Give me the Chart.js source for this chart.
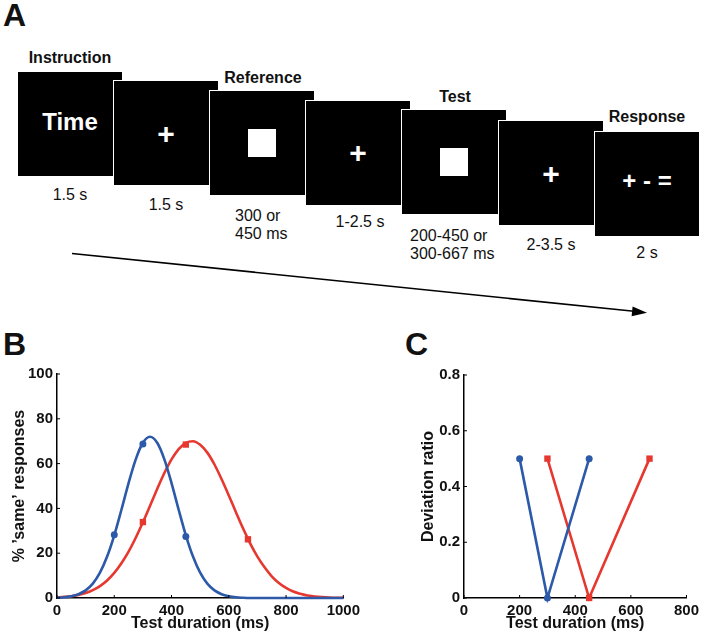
<!DOCTYPE html>
<html lang="en">
<head>
<meta charset="UTF-8">
<title>Duration judgement task</title>
<script src="https://cdn.jsdelivr.net/npm/chart.js"></script>
<style>
    body { margin: 0; background: #fff; font-family: 'Liberation Sans', Arial, sans-serif; color: #111; }
    #fig { position: relative; width: 703px; height: 636px; overflow: hidden; }
    .letter { position: absolute; font-size: 32px; font-weight: bold; line-height: 32px; }
    .screen {
        position: absolute; width: 104px; height: 104px; background: #000; border: 1px solid #fff;
        display: flex; align-items: center; justify-content: center;
        color: #fff; font-weight: bold; line-height: 1;
    }
    .stim { width: 28px; height: 28px; background: #fff; }
    .head { position: absolute; width: 160px; text-align: center; font-size: 16px; font-weight: bold; line-height: 16px; }
    .dur { position: absolute; font-size: 16px; line-height: 16px; white-space: nowrap; }
    .dur.c { width: 160px; text-align: center; }
    canvas { position: absolute; }
    svg { position: absolute; left: 0; top: 0; }
</style>
</head>
<body>
<div id="fig">
    <div class="letter" style="left:3px; top:-1px;">A</div>
    <div class="letter" style="left:3px; top:328px;">B</div>
    <div class="letter" style="left:405px; top:328px;">C</div>

    <!-- panel A: trial sequence -->
    <div class="head" style="left:-10px; top:49.5px;">Instruction</div>
    <div class="head" style="left:183px; top:69.5px;">Reference</div>
    <div class="head" style="left:375px; top:88.5px;">Test</div>
    <div class="head" style="left:567px; top:108.5px;">Response</div>

    <div class="screen" style="left:17px; top:71px; font-size:24px;"><span style="transform:translateY(-2px)">Time</span></div>
    <div class="screen" style="left:113px; top:80px; font-size:30px;"><span style="transform:translateY(1px)">+</span></div>
    <div class="screen" style="left:209px; top:90px;"><div class="stim"></div></div>
    <div class="screen" style="left:305px; top:100px; font-size:30px;"><span>+</span></div>
    <div class="screen" style="left:401px; top:109px;"><div class="stim"></div></div>
    <div class="screen" style="left:498px; top:120px; font-size:30px;"><span style="transform:translateY(1px)">+</span></div>
    <div class="screen" style="left:594px; top:131px; font-size:24px;"><span style="transform:translateY(-3px)">+ - =</span></div>

    <div class="dur c" style="left:-10px; top:187px;">1.5 s</div>
    <div class="dur c" style="left:86px; top:197px;">1.5 s</div>
    <div class="dur" style="left:235px; top:207.4px; line-height:17.6px;">300 or<br>450 ms</div>
    <div class="dur c" style="left:280px; top:214px;">1-2.5 s</div>
    <div class="dur" style="left:410px; top:226.7px; line-height:18px;">200-450 or<br>300-667 ms</div>
    <div class="dur c" style="left:471px; top:236.5px;">2-3.5 s</div>
    <div class="dur c" style="left:567px; top:244.5px;">2 s</div>

    <svg width="703" height="636">
        <line x1="72" y1="253.5" x2="634" y2="311.3" stroke="#000" stroke-width="1.6"/>
        <polygon points="647,312.7 631.6,316.2 632.6,306.4" fill="#000"/>
    </svg>

    <canvas id="chartB" width="364" height="336" style="left:0; top:300px;"></canvas>
    <canvas id="chartC" width="303" height="336" style="left:400px; top:300px;"></canvas>
</div>

<script>
    // Panel B: fitted curves of % 'same' responses
    const curveX = [0, 25, 50, 75, 100, 125, 150, 175, 200, 225, 250, 275, 300, 325, 350, 375, 400,
                    425, 450, 475, 500, 525, 550, 575, 600, 625, 650, 675, 700, 725, 750, 775, 800,
                    825, 850, 875, 900, 925, 950, 975, 1000];
    const fit300 = [0.1, 0.3, 0.8, 1.7, 3.4, 6.4, 11.3, 18.5, 28.0, 39.4, 51.3, 61.9, 69.3, 72.0, 69.3, 61.9, 51.3,
                    39.4, 28.0, 18.5, 11.3, 6.4, 3.4, 1.7, 0.8, 0.3, 0.1, 0, 0, 0, 0, 0, 0,
                    0, 0, 0, 0, 0, 0, 0, 0];
    const fit450 = [0.3, 0.5, 0.8, 1.4, 2.2, 3.5, 5.3, 7.8, 11.2, 15.5, 20.7, 26.9, 33.8, 41.2, 48.7, 55.8, 61.9,
                    66.5, 69.3, 70.0, 68.4, 64.9, 59.6, 53.0, 45.8, 38.3, 31.0, 24.3, 18.5, 13.7, 9.7, 6.7, 4.5,
                    2.9, 1.9, 1.1, 0.7, 0.4, 0.2, 0.1, 0.1];

    // observed test durations (ms)
    const test300 = [200, 300, 450];
    const same300 = [28.2, 68.8, 27.5];
    const test450 = [300, 450, 667];
    const same450 = [33.9, 68.5, 26.2];

    // Panel C: deviation ratio
    const dev300 = [0.5, 0, 0.5];
    const dev450 = [0.5, 0, 0.5];

    // tick labels
    const xTicksB = [0, 200, 400, 600, 800, 1000];
    const yTicksB = [0, 20, 40, 60, 80, 100];
    const xTicksC = [0, 200, 400, 600, 800];
    const yTicksC = [0, 0.2, 0.4, 0.6, 0.8];

    const BLUE = '#2c5aa8';
    const RED = '#e6382f';

    Chart.defaults.font.family = "'Liberation Sans', Arial, sans-serif";
    Chart.defaults.color = '#111';

    const pts = (xs, ys) => xs.map((x, i) => ({ x: x, y: ys[i] }));

    // matlab-style small ticks pointing into the plot
    const inwardTicks = {
        id: 'inwardTicks',
        afterDraw(chart) {
            const { ctx, chartArea: a, scales: { x, y } } = chart;
            ctx.save();
            ctx.strokeStyle = '#000';
            ctx.lineWidth = 1;
            ctx.beginPath();
            x.ticks.forEach(t => {
                const px = x.getPixelForValue(t.value);
                ctx.moveTo(px, a.bottom);
                ctx.lineTo(px, a.bottom - 3);
            });
            y.ticks.forEach(t => {
                const py = y.getPixelForValue(t.value);
                ctx.moveTo(a.left, py);
                ctx.lineTo(a.left + 3, py);
            });
            ctx.stroke();
            ctx.restore();
        }
    };

    function axes(xMax, xTicks, yMax, yTicks, yTitle, yTitlePad, yWidth) {
        const tickFont = { size: 15, weight: 'bold' };
        const titleFont = { size: 16, weight: 'bold' };
        return {
            x: {
                type: 'linear', min: 0, max: xMax,
                afterBuildTicks: s => { s.ticks = xTicks.map(v => ({ value: v })); },
                afterFit: s => { s.height = 38; },
                grid: { display: false, drawTicks: false },
                border: { color: '#000', width: 1.5 },
                ticks: { font: tickFont, padding: 4, maxRotation: 0, autoSkip: false, color: '#111', callback: v => String(v) },
                title: { display: true, text: 'Test duration (ms)', font: titleFont, color: '#111', padding: { top: 0, bottom: 3 } }
            },
            y: {
                type: 'linear', min: 0, max: yMax,
                afterBuildTicks: s => { s.ticks = yTicks.map(v => ({ value: v })); },
                afterFit: s => { s.width = yWidth; },
                grid: { display: false, drawTicks: false },
                border: { color: '#000', width: 1.5 },
                ticks: { font: tickFont, padding: 4, autoSkip: false, color: '#111', callback: v => String(v) },
                title: { display: true, text: yTitle, font: titleFont, color: '#111', padding: { top: yTitlePad, bottom: 0 } }
            }
        };
    }

    const common = {
        responsive: false,
        animation: false,
        plugins: { legend: { display: false }, tooltip: { enabled: false } }
    };

    new Chart(document.getElementById('chartB'), {
        type: 'line',
        data: {
            datasets: [
                { data: pts(curveX, fit300), borderColor: BLUE, borderWidth: 2.6, pointRadius: 0,
                  cubicInterpolationMode: 'monotone', clip: false },
                { data: pts(curveX, fit450), borderColor: RED, borderWidth: 2.6, pointRadius: 0,
                  cubicInterpolationMode: 'monotone', clip: false },
                { data: pts(test300, same300), showLine: false, pointStyle: 'circle', pointRadius: 3.5,
                  pointBackgroundColor: BLUE, pointBorderWidth: 0, clip: false },
                { data: pts(test450, same450), showLine: false, pointStyle: 'rect', pointRadius: 4.5,
                  pointBackgroundColor: RED, pointBorderWidth: 0, clip: false }
            ]
        },
        options: Object.assign({}, common, {
            layout: { padding: { top: 74, right: 20, left: 0, bottom: 0 } },
            scales: axes(1000, xTicksB, 100, yTicksB, '% \u2019same\u2019 responses', 10, 57)
        }),
        plugins: [inwardTicks]
    });

    new Chart(document.getElementById('chartC'), {
        type: 'line',
        data: {
            datasets: [
                { data: pts(test300, dev300), borderColor: BLUE, borderWidth: 2.6, pointStyle: 'circle', pointRadius: 3.5,
                  pointBackgroundColor: BLUE, pointBorderWidth: 0, tension: 0, clip: false },
                { data: pts(test450, dev450), borderColor: RED, borderWidth: 2.6, pointStyle: 'rect', pointRadius: 4.5,
                  pointBackgroundColor: RED, pointBorderWidth: 0, tension: 0, clip: false }
            ]
        },
        options: Object.assign({}, common, {
            layout: { padding: { top: 75, right: 15, left: 0, bottom: 0 } },
            scales: axes(800, xTicksC, 0.8, yTicksC, 'Deviation ratio', 19.4, 64)
        }),
        plugins: [inwardTicks]
    });
</script>
</body>
</html>
